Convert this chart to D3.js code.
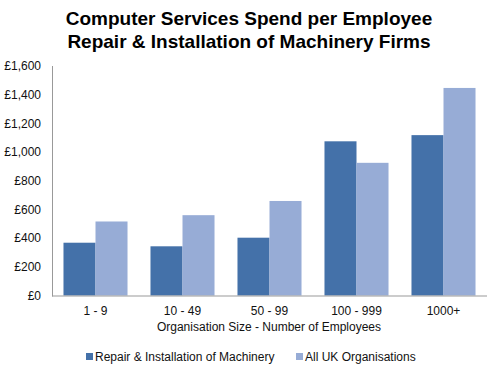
<!DOCTYPE html>
<html>
<head>
<meta charset="utf-8">
<script src="https://cdn.jsdelivr.net/npm/d3@7"></script>
<style>
  body { margin: 0; background: #fff; }
  text { font-family: "Liberation Sans", Arial, sans-serif; }
</style>
</head>
<body>
<div class="chart"></div>
<script>
var categories = ['1 - 9', '10 - 49', '50 - 99', '100 - 999', '1000+'];
var seriesNames = ['Repair & Installation of Machinery', 'All UK Organisations'];
var repairValues = [368, 343, 403, 1075, 1118];
var ukValues = [516, 560, 659, 925, 1447];
var yTicks = [0, 200, 400, 600, 800, 1000, 1200, 1400, 1600];
var colors = ['#4471a9', '#97acd6'];

var width = 500, height = 376;
var margin = { top: 66, right: 13, bottom: 80, left: 52 };

var svg = d3.select('.chart')
  .append('svg')
  .attr('width', width)
  .attr('height', height);

// title
var title = svg.append('text')
  .attr('x', 249)
  .attr('text-anchor', 'middle')
  .style('font-weight', 'bold')
  .style('font-size', '19px')
  .attr('fill', '#000');
title.append('tspan').attr('x', 249).attr('y', 25).text('Computer Services Spend per Employee');
title.append('tspan').attr('x', 249).attr('y', 48).text('Repair & Installation of Machinery Firms');

var x = d3.scaleBand()
  .domain(categories)
  .range([margin.left, width - margin.right])
  .paddingInner(0.264)
  .paddingOuter(0.132);

var x1 = d3.scaleBand()
  .domain([0, 1])
  .range([0, x.bandwidth()]);

var y = d3.scaleLinear()
  .domain([0, 1600])
  .range([height - margin.bottom - 0.5, margin.top]);

var rows = categories.map(function(c, i) {
  return { cat: c, vals: [repairValues[i], ukValues[i]] };
});

var groups = svg.selectAll('.grp')
  .data(rows)
  .enter().append('g')
  .attr('class', 'grp')
  .attr('transform', function(d) { return 'translate(' + x(d.cat) + ',0)'; });

groups.selectAll('rect')
  .data(function(d) { return d.vals; })
  .enter().append('rect')
  .attr('x', function(d, i) { return x1(i); })
  .attr('y', function(d) { return y(d); })
  .attr('width', x1.bandwidth())
  .attr('height', function(d) { return y(0) - y(d); })
  .attr('fill', function(d, i) { return colors[i]; });

// y axis
var yAxis = svg.append('g')
  .attr('transform', 'translate(' + margin.left + ',0)')
  .call(d3.axisLeft(y).tickValues(yTicks).tickSize(0).tickPadding(11)
    .tickFormat(function(d) { return '£' + d3.format(',')(d); }));
yAxis.select('.domain').attr('stroke', '#999').attr('d', 'M0.5,' + margin.top + 'V' + (y(0) + 1));
yAxis.selectAll('text').style('font-size', '12px').attr('fill', '#111');

// x axis
var xAxis = svg.append('g')
  .attr('transform', 'translate(0,' + (y(0) + 0.5) + ')')
  .call(d3.axisBottom(x).tickSize(0).tickPadding(10));
xAxis.select('.domain').attr('stroke', '#999').attr('d', 'M' + margin.left + ',0H' + (width - margin.right));
xAxis.selectAll('text').style('font-size', '12px').attr('fill', '#111');

svg.append('text')
  .attr('x', 269)
  .attr('y', 331)
  .attr('text-anchor', 'middle')
  .style('font-size', '12px')
  .attr('fill', '#111')
  .text('Organisation Size - Number of Employees');

// legend
var legendX = [86, 296];
var legend = svg.selectAll('.leg')
  .data(seriesNames)
  .enter().append('g')
  .attr('class', 'leg')
  .attr('transform', function(d, i) { return 'translate(' + legendX[i] + ',361)'; });
legend.append('rect')
  .attr('x', 0).attr('y', -8)
  .attr('width', 7).attr('height', 7)
  .attr('fill', function(d, i) { return colors[i]; });
legend.append('text')
  .attr('x', 9).attr('y', 0)
  .style('font-size', '12px')
  .attr('fill', '#111')
  .text(function(d) { return d; });
</script>
</body>
</html>
